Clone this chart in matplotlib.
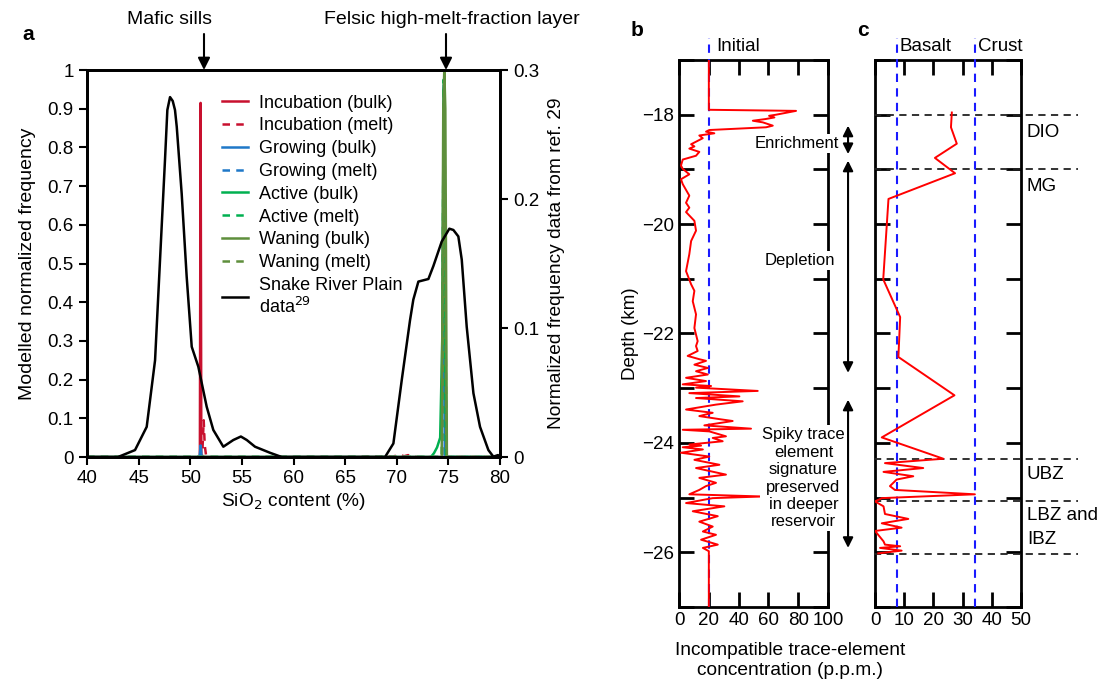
import matplotlib
matplotlib.use('Agg')
import matplotlib.pyplot as plt
import matplotlib.transforms as mtransforms

plt.rcParams['font.family'] = ['Liberation Sans', 'DejaVu Sans']
plt.rcParams['axes.unicode_minus'] = True

# ---------------- Panel a data ----------------
sio2_ticks = [40, 45, 50, 55, 60, 65, 70, 75, 80]
left_ticks = [0, 0.1, 0.2, 0.3, 0.4, 0.5, 0.6, 0.7, 0.8, 0.9, 1]
left_labels = ['0', '0.1', '0.2', '0.3', '0.4', '0.5', '0.6', '0.7', '0.8', '0.9', '1']
right_ticks = [0, 0.1, 0.2, 0.3]
right_labels = ['0', '0.1', '0.2', '0.3']

incub_bulk_x = [40, 50.93, 51.0, 51.07, 80]
incub_bulk_y = [0, 0, 0.915, 0, 0]
incub_melt_x = [40, 51.15, 51.3, 51.4, 51.55, 66.5, 67.5, 68.2, 69.0, 69.6, 70.3, 70.7, 71.1, 71.5, 72.0, 80]
incub_melt_y = [0, 0, 0.095, 0.03, 0, 0, 0.002, 0, 0.003, 0.001, 0.006, 0.002, 0.005, 0.001, 0, 0]
grow_bulk_x = [40, 50.9, 51.0, 51.1, 74.4, 74.55, 74.7, 80]
grow_bulk_y = [0, 0, 0.03, 0, 0, 0.96, 0, 0]
grow_melt_x = [40, 74.4, 74.55, 74.7, 80]
grow_melt_y = [0, 0, 0.96, 0, 0]
active_bulk_x = [40, 73.3, 73.6, 73.9, 74.2, 74.4, 74.55, 74.7, 74.8, 80]
active_bulk_y = [0, 0, 0.01, 0.025, 0.05, 0.3, 0.975, 0.3, 0, 0]
active_melt_x = [40, 74.35, 74.55, 74.75, 80]
active_melt_y = [0, 0, 0.975, 0, 0]
waning_bulk_x = [40, 74.35, 74.5, 74.6, 74.7, 74.85, 80]
waning_bulk_y = [0, 0, 0.9, 1.0, 0.9, 0, 0]
waning_melt_x = [40, 74.4, 74.6, 74.8, 80]
waning_melt_y = [0, 0, 1.0, 0, 0]

snake_x = [40, 43.0, 44.65, 45.78, 46.59, 47.23, 47.55, 47.78, 48.04, 48.3, 48.52, 48.69, 49.17, 49.65,
           50.14, 50.78, 51.59, 52.23, 53.2, 54.17, 54.9, 55.47, 56.27, 57.72, 58.86, 68.86,
           69.67, 70.48, 71.28, 71.6, 72.09, 73.06, 73.54, 74.35, 75.09, 75.48, 75.96, 76.29,
           76.77, 77.42, 78.06, 78.87, 79.35, 79.8, 80]
snake_y = [0, 0, 0.0054, 0.0234, 0.075, 0.1785, 0.230, 0.269, 0.279, 0.276, 0.269, 0.256, 0.204, 0.140,
           0.0855, 0.070, 0.039, 0.021, 0.008, 0.0132, 0.0159, 0.0132, 0.008, 0.0033, 0, 0,
           0.0105, 0.0597, 0.106, 0.122, 0.136, 0.138, 0.148, 0.167, 0.177, 0.176, 0.171, 0.153,
           0.101, 0.0495, 0.0234, 0.0054, 0.0003, 0.0015, 0]

# ---------------- Panel b data ----------------
b_conc = [20, 20, 78.5, 65.1, 60.4, 64.0, 57.9, 49.5, 56.2, 62.9, 58.4, 20.3, 18.1, 23.7, 13.6, 15.9,
          8.1, 10.3, 6.9, 13.6, 11.4, 2.5, 1.3, 2.5, 6.9, 1.3, 2.5, 6.9, 4.7, 6.9, 4.7, 10.3, 11.4,
          8.1, 6.9, 4.7, 8.1, 10.3, 9.2, 11.4, 10.3, 12.5, 11.4, 12.5, 5.8, 13.6, 18.1, 10.3, 19.3,
          11.4, 19.3, 4.7, 18.1, 2.5, 21.5, 11.4, 52.8, 6.9, 40.5, 11.4, 42.7, 24.8, 4.7, 22.6,
          13.6, 28.2, 36.0, 17.0, 48.3, 2.5, 20.3, 31.5, 22.6, 29.3, 6.9, 14.8, 2.5, 16.0, 1.3,
          20.3, 10.3, 27.1, 11.4, 31.5, 13.6, 24.8, 18.1, 13.6, 6.9, 56.2, 22.6, 4.7, 30.4, 9.2,
          26.0, 13.6, 22.6, 16.0, 24.8, 14.8, 26.0, 16.0, 20.0, 20.0]
b_depth = [-17.0, -17.91, -17.93, -18.0, -18.02, -18.05, -18.08, -18.11, -18.14, -18.20, -18.23,
           -18.28, -18.31, -18.34, -18.38, -18.43, -18.54, -18.58, -18.62, -18.68, -18.75, -18.82,
           -18.93, -18.99, -19.09, -19.18, -19.27, -19.48, -19.61, -19.70, -19.78, -19.94, -20.12,
           -20.31, -20.55, -20.86, -21.10, -21.22, -21.41, -21.65, -21.90, -22.14, -22.23, -22.32,
           -22.41, -22.47, -22.50, -22.57, -22.63, -22.69, -22.75, -22.81, -22.87, -22.93, -22.96,
           -22.99, -23.05, -23.09, -23.15, -23.18, -23.24, -23.30, -23.39, -23.45, -23.51, -23.57,
           -23.60, -23.68, -23.74, -23.76, -23.79, -23.88, -23.91, -23.97, -24.03, -24.05, -24.08,
           -24.12, -24.18, -24.25, -24.31, -24.40, -24.46, -24.58, -24.64, -24.73, -24.79, -24.86,
           -24.94, -24.98, -25.01, -25.10, -25.16, -25.25, -25.34, -25.44, -25.53, -25.62, -25.68,
           -25.77, -25.86, -25.92, -25.98, -27.0]
b_initial = 20

# ---------------- Panel c data ----------------
c_conc = [26.3, 26.0, 28.0, 20.5, 27.4, 4.6, 2.8, 8.6, 8.0, 27.2, 2.3, 23.4, 3.4, 16.5, 2.9, 13.1,
          7.4, 5.1, 6.8, 34.2, 2.3, 0.0, 2.9, 3.4, 11.4, 2.3, 9.1, 0.0, 2.9, 3.4, 8.6, 1.7, 9.1, 1.1]
c_depth = [-17.96, -18.23, -18.53, -18.79, -19.07, -19.54, -21.01, -21.70, -22.43, -23.13, -23.90,
           -24.29, -24.37, -24.46, -24.53, -24.61, -24.67, -24.79, -24.86, -24.94, -25.01, -25.07,
           -25.16, -25.30, -25.39, -25.47, -25.55, -25.61, -25.80, -25.86, -25.89, -25.92, -25.97,
           -26.02]
c_basalt = 7.5
c_crust = 34.2
zone_bounds = [-18.0, -19.0, -24.29, -25.07, -26.03]
zone_labels = ['DIO', 'MG', 'UBZ', 'LBZ and\nIBZ']
zone_label_depth = [-18.32, -19.32, -24.58, -25.55]

depth_ticks = [-27, -26, -25, -24, -23, -22, -21, -20, -19, -18, -17]
depth_labels = ['', '\u221226', '', '\u221224', '', '\u221222', '', '\u221220', '', '\u221218', '']

FS = 13.5

# ---------------- Figure ----------------
fig = plt.figure(figsize=(11, 6.85), dpi=100)

RED_DK = '#c8102e'
BLUE = '#1f78c8'
GREEN = '#00b050'
OLIVE = '#5e8f3c'

ax = fig.add_axes([0.0791, 0.3328, 0.3755, 0.565])
ax2 = ax.twinx()
lw = 1.8
dash = (0, (3, 2.5))
h = []
h += ax.plot(incub_bulk_x, incub_bulk_y, color=RED_DK, lw=lw, label='Incubation (bulk)')
h += ax.plot(incub_melt_x, incub_melt_y, color=RED_DK, lw=lw, ls=dash, label='Incubation (melt)')
h += ax.plot(grow_bulk_x, grow_bulk_y, color=BLUE, lw=lw, label='Growing (bulk)')
h += ax.plot(grow_melt_x, grow_melt_y, color=BLUE, lw=lw, ls=dash, label='Growing (melt)')
h += ax.plot(active_bulk_x, active_bulk_y, color=GREEN, lw=lw, label='Active (bulk)')
h += ax.plot(active_melt_x, active_melt_y, color=GREEN, lw=lw, ls=dash, label='Active (melt)')
h += ax.plot(waning_bulk_x, waning_bulk_y, color=OLIVE, lw=lw, label='Waning (bulk)')
h += ax.plot(waning_melt_x, waning_melt_y, color=OLIVE, lw=lw, ls=dash, label='Waning (melt)')
h += ax2.plot(snake_x, snake_y, color='black', lw=1.8, label='Snake River Plain\ndata$^{29}$')

ax.set_xlim(40, 80)
ax.set_ylim(0, 1)
ax2.set_ylim(0, 0.3)
ax.set_xticks(sio2_ticks)
ax.set_yticks(left_ticks)
ax.set_yticklabels(left_labels)
ax2.set_yticks(right_ticks)
ax2.set_yticklabels(right_labels)
for a in (ax, ax2):
    for s in a.spines.values():
        s.set_linewidth(2)
    a.tick_params(direction='out', length=6, width=1.5, labelsize=FS)
ax.set_xlabel('SiO$_2$ content (%)', fontsize=FS + 0.3, labelpad=3)
ax.set_ylabel('Modelled normalized frequency', fontsize=FS + 0.5, labelpad=8)
ax2.set_ylabel('Normalized frequency data from ref. 29', fontsize=FS + 0.3, labelpad=6)
leg = ax.legend(handles=h, loc='upper left', bbox_to_anchor=(0.31, 0.955), frameon=False,
                fontsize=13, handlelength=1.45, handletextpad=0.6, labelspacing=0.32,
                borderaxespad=0)

fig.text(0.02, 0.949, 'a', fontsize=15, weight='bold', va='center')
fig.text(0.1545, 0.972, 'Mafic sills', fontsize=14, ha='center', va='center')
fig.text(0.411, 0.972, 'Felsic high-melt-fraction layer', fontsize=14, ha='center', va='center')
for xp in (204 / 1100, 446 / 1100):
    fig.add_artist(matplotlib.patches.FancyArrowPatch((xp, 1 - 34 / 685), (xp, 1 - 70 / 685),
                   transform=fig.transFigure, arrowstyle='-|>', mutation_scale=18,
                   color='black', lw=1.5, shrinkA=0, shrinkB=0))

# ---------- Panels b, c ----------
axb = fig.add_axes([0.6173, 0.1139, 0.1355, 0.7985])
axc = fig.add_axes([0.7955, 0.1139, 0.1327, 0.7985])

for a in (axb, axc):
    for s in a.spines.values():
        s.set_linewidth(2)
    a.set_ylim(-27, -17)
    a.set_yticks(depth_ticks)
    a.tick_params(direction='in', length=11, width=2, top=True, right=True, labelsize=FS)

axb.set_yticklabels(depth_labels)
axc.set_yticklabels([])
axb.set_xlim(0, 100)
axb.set_xticks([0, 20, 40, 60, 80, 100])
axc.set_xlim(0, 50)
axc.set_xticks([0, 10, 20, 30, 40, 50])
axb.set_ylabel('Depth (km)', fontsize=FS, labelpad=2)

axb.plot([b_initial, b_initial], [-27, -16.6], color='#1a1aff', lw=1.5, ls=(0, (4, 3)),
         clip_on=False, zorder=4)
axb.plot(b_conc, b_depth, color='#ff0000', lw=1.4, zorder=5)
axb.text(25, -16.75, 'Initial', fontsize=FS, ha='left', va='center')

for xv in (c_basalt, c_crust):
    axc.plot([xv, xv], [-27, -16.6], color='#1a1aff', lw=1.5, ls=(0, (4, 3)), clip_on=False, zorder=4)
axc.text(c_basalt + 1.0, -16.75, 'Basalt', fontsize=FS, ha='left', va='center')
axc.text(c_crust + 1.2, -16.75, 'Crust', fontsize=FS, ha='left', va='center')
tc = mtransforms.blended_transform_factory(axc.transAxes, axc.transData)
for zb in zone_bounds:
    axc.plot([-0.01, 1.39], [zb, zb], transform=tc, color='#222222', lw=1.3, ls=(0, (4, 3)),
             clip_on=False, zorder=3)
for lab, zd in zip(zone_labels, zone_label_depth):
    axc.text(1.04, zd, lab, transform=tc, fontsize=FS, ha='left', va='center', linespacing=1.55)
axc.plot(c_conc, c_depth, color='#ff0000', lw=1.4, zorder=5)

fig.text(0.718, 0.036, 'Incompatible trace-element\nconcentration (p.p.m.)', fontsize=FS + 0.3,
         ha='center', va='center', linespacing=1.2)
fig.text(0.573, 0.956, 'b', fontsize=15, weight='bold', va='center')
fig.text(0.779, 0.956, 'c', fontsize=15, weight='bold', va='center')

tb = mtransforms.blended_transform_factory(axb.transAxes, axb.transData)
for y0, y1 in [(-18.2, -18.72), (-18.84, -22.72), (-23.21, -25.92)]:
    axb.add_artist(matplotlib.patches.FancyArrowPatch((1.134, y0), (1.134, y1), transform=tb,
                   arrowstyle='<|-|>', mutation_scale=15, color='black', lw=1.5,
                   shrinkA=0, shrinkB=0, clip_on=False, zorder=6))
bbox = dict(facecolor='white', edgecolor='none', pad=1.5)
axb.text(0.792, -18.53, 'Enrichment', transform=tb, fontsize=12, ha='center', va='center',
         bbox=bbox, zorder=7)
axb.text(0.812, -20.67, 'Depletion', transform=tb, fontsize=12, ha='center', va='center',
         bbox=bbox, zorder=7)
axb.text(0.835, -24.65, 'Spiky trace\nelement\nsignature\npreserved\nin deeper\nreservoir',
         transform=tb, fontsize=12, ha='center', va='center', linespacing=1.2, bbox=bbox, zorder=7)

fig.savefig('out.png', dpi=100)
